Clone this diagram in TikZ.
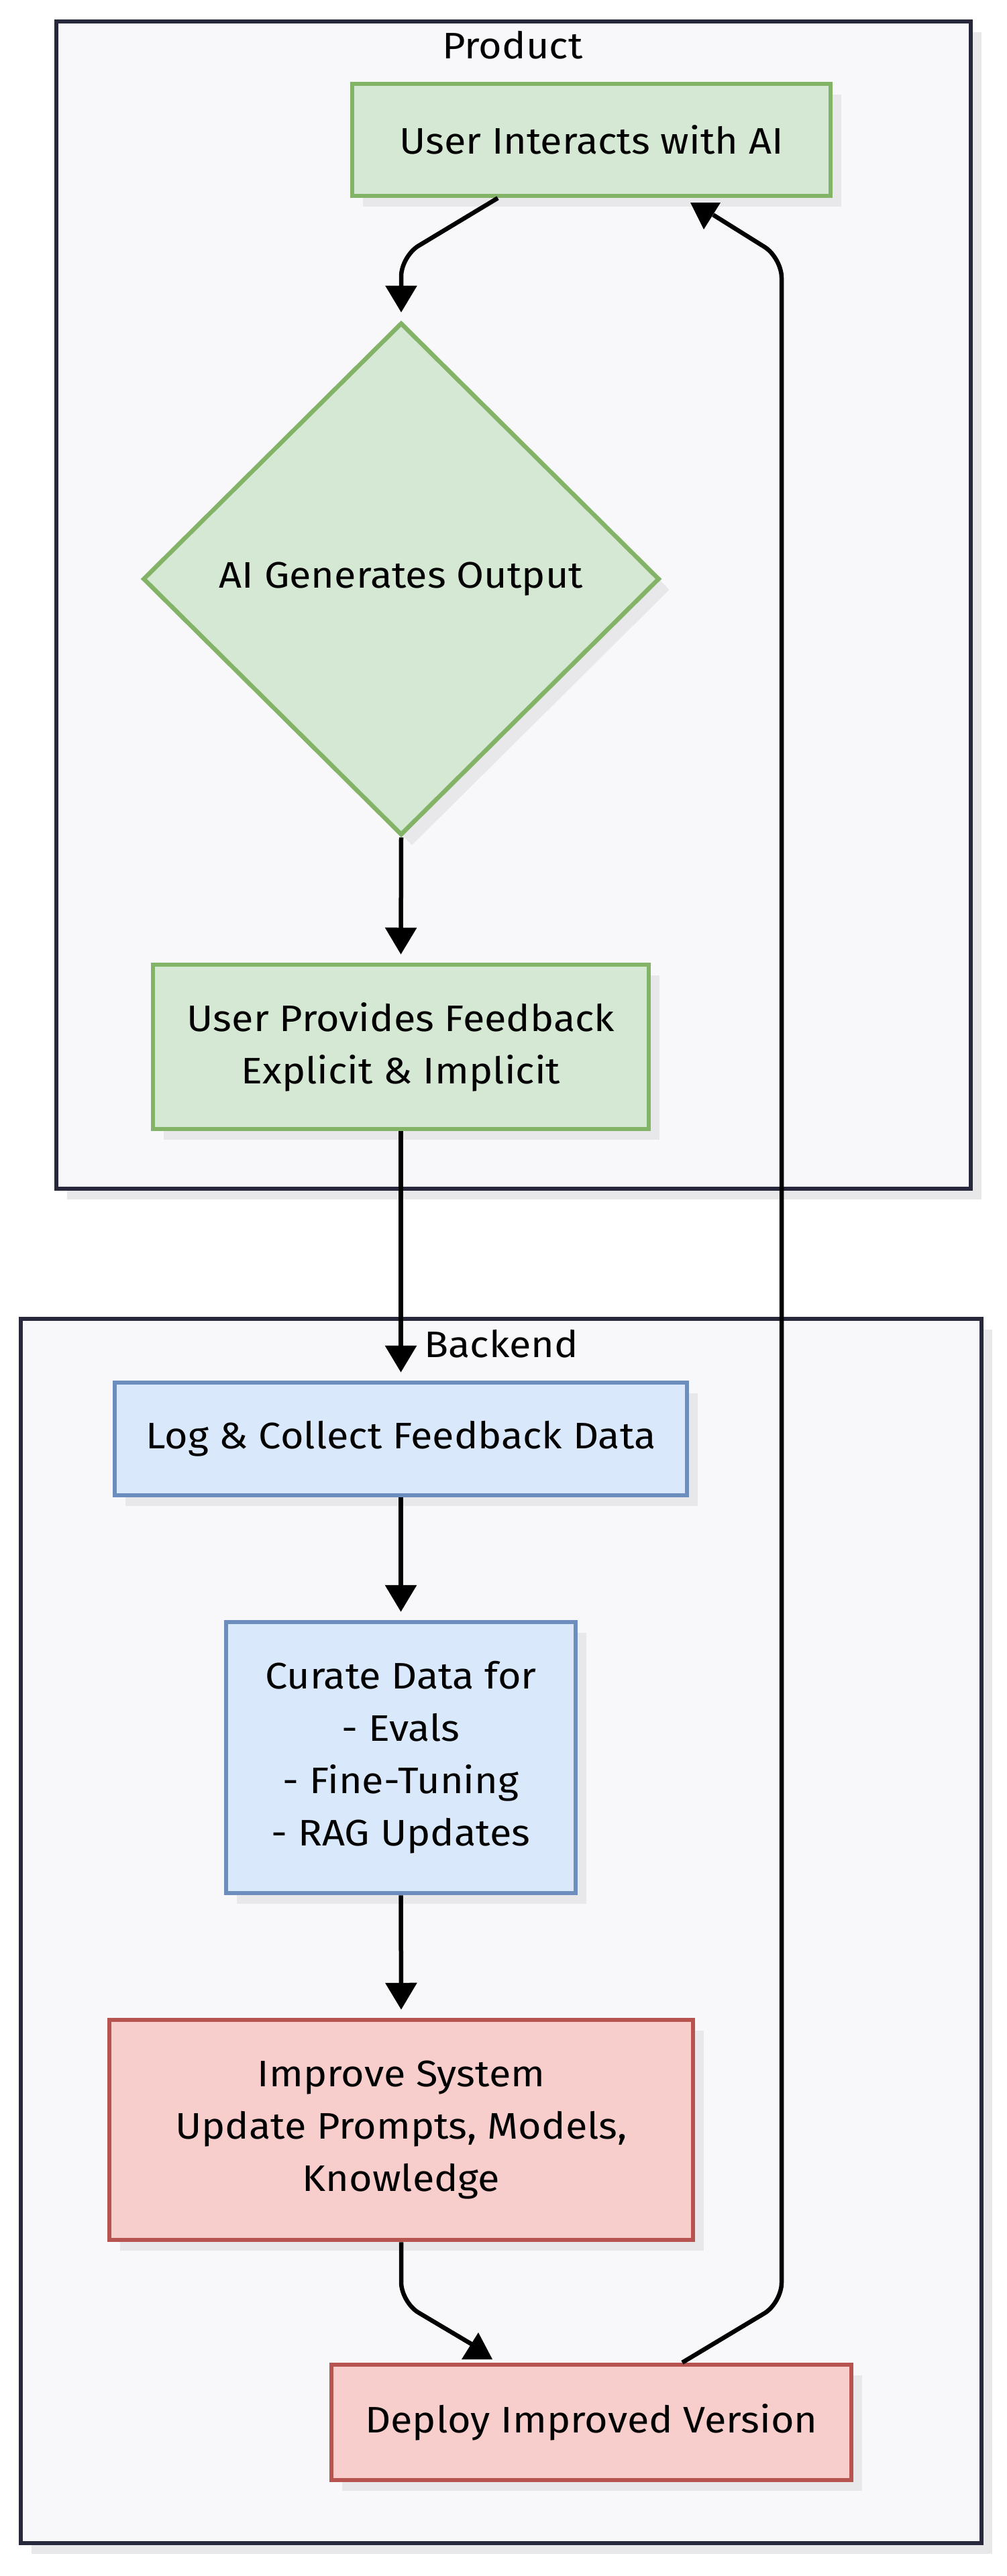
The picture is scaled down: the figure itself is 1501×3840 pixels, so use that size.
\documentclass[tikz,border=0pt]{standalone}
\usepackage{fontspec}
\setmainfont[FakeStretch=1.08]{Fira Sans}
\usetikzlibrary{shapes.geometric,arrows.meta,shadows}
\definecolor{gfill}{HTML}{D5E8D4}
\definecolor{gline}{HTML}{82B366}
\definecolor{bfill}{HTML}{DAE8FC}
\definecolor{bline}{HTML}{6C8EBF}
\definecolor{rfill}{HTML}{F8CECC}
\definecolor{rline}{HTML}{B85450}
\definecolor{cfill}{HTML}{F8F8FA}
\definecolor{cline}{HTML}{28283C}
\definecolor{shade}{HTML}{E8E8EA}
\tikzset{
  txt/.style={font=\fontsize{55pt}{78pt}\selectfont, text=black, align=center},
  shad/.style={drop shadow={shadow xshift=16pt, shadow yshift=-16pt, fill=shade, opacity=1}},
  cluster/.style={draw=cline, fill=cfill, line width=6.5pt, inner sep=0pt, shad},
  gbox/.style={txt, rectangle, draw=gline, fill=gfill, line width=6.5pt, inner sep=0pt, shad},
  bbox/.style={txt, rectangle, draw=bline, fill=bfill, line width=6.5pt, inner sep=0pt, shad},
  rbox/.style={txt, rectangle, draw=rline, fill=rfill, line width=6.5pt, inner sep=0pt, shad},
  gdia/.style={txt, diamond, draw=gline, fill=gfill, line width=6.5pt, inner sep=0pt, shad},
  ctitle/.style={txt, inner sep=0pt},
  flow/.style={draw=black, line width=6.5pt, -{Triangle[length=40pt,width=46pt]}},
  wire/.style={draw=black, line width=6.5pt},
  tipc/.style={fill=black}
}
\begin{document}
\begin{tikzpicture}[x=1pt,y=-1pt]
\useasboundingbox (0,0) rectangle (1501,3840);
\fill[white] (0,0) rectangle (1501,3840);

% clusters
\node[cluster, minimum width=1363pt, minimum height=1740pt] (product) at (765.5,902) {};
\node[cluster, minimum width=1432pt, minimum height=1825pt] (backend) at (747,2878.5) {};
\node[ctitle] (ptitle) at (764,67) {Product};
\node[ctitle] (btitle) at (747,2003) {Backend};

% nodes
\node[gbox, minimum width=713pt, minimum height=167pt] (ui) at (881.5,208.5) {User Interacts with AI};
\node[gdia, minimum width=770pt, minimum height=764pt] (d) at (598,863) {AI Generates Output};
\node[gbox, minimum width=739pt, minimum height=245pt] (upf) at (597.5,1560.5) {User Provides Feedback\\Explicit \& Implicit};
\node[bbox, minimum width=853pt, minimum height=168pt] (log) at (597.5,2145) {Log \& Collect Feedback Data};
\node[bbox, minimum width=521pt, minimum height=404pt] (cur) at (597.5,2620) {Curate Data for\\- Evals\\- Fine-Tuning\\- RAG Updates};
\node[rbox, minimum width=870pt, minimum height=328pt] (imp) at (598,3175) {Improve System\\Update Prompts, Models,\\Knowledge};
\node[rbox, minimum width=775pt, minimum height=172pt] (dep) at (881.5,3611) {Deploy Improved Version};

% connectors
\draw[flow, rounded corners=30pt] ([xshift=-139.5pt]ui.south) -- (598,382) -- ([yshift=12pt]d.north);
\draw[flow] (d.south) -- ([yshift=12pt]upf.north);
\draw[flow] (upf.south) -- ([yshift=12pt]log.north);
\draw[flow] (log.south) -- ([yshift=12pt]cur.north);
\draw[flow] (cur.south) -- ([yshift=12pt]imp.north);
\draw[wire, rounded corners=30pt] (imp.south) -- (598,3432) -- ([xshift=-174.5pt,yshift=25pt]dep.north);
\fill[tipc] (713,3477) -- (734,3517) -- (688,3517) -- cycle;
\draw[wire, rounded corners=30pt] ([xshift=135.5pt]dep.north) -- (1165,3433) -- (1165,384) -- ([xshift=181.5pt,yshift=-25pt]ui.south);
\fill[tipc] (1029,302) -- (1074,302) -- (1049,342) -- cycle;
\end{tikzpicture}
\end{document}
